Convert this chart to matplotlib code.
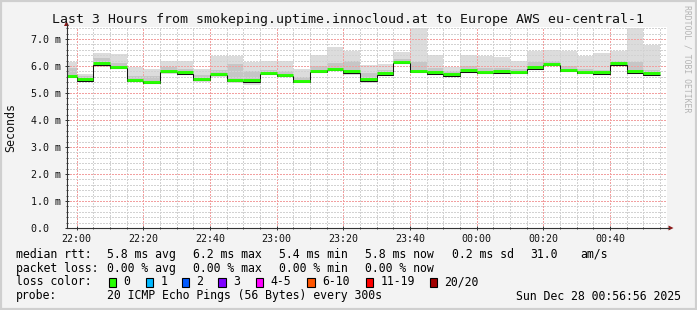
import matplotlib
matplotlib.use("Agg")
import matplotlib.pyplot as plt
import numpy as np
from matplotlib.patches import Polygon, Rectangle
from matplotlib.lines import Line2D
import matplotlib.transforms as mtransforms

# ---------------- data ----------------
slot_times = ["21:55", "22:00", "22:05", "22:10", "22:15", "22:20", "22:25", "22:30",
              "22:35", "22:40", "22:45", "22:50", "22:55", "23:00", "23:05", "23:10",
              "23:15", "23:20", "23:25", "23:30", "23:35", "23:40", "23:45", "23:50",
              "23:55", "00:00", "00:05", "00:10", "00:15", "00:20", "00:25", "00:30",
              "00:35", "00:40", "00:45", "00:50"]
slot_minutes = 5

median_ms = [5.64, 5.52, 6.11, 5.97, 5.49, 5.42, 5.83, 5.76,
             5.53, 5.71, 5.49, 5.47, 5.75, 5.68, 5.46, 5.83,
             5.90, 5.80, 5.50, 5.74, 6.16, 5.82, 5.77, 5.69,
             5.84, 5.79, 5.81, 5.79, 5.95, 6.09, 5.87, 5.79,
             5.76, 6.10, 5.81, 5.74]
smoke_max = [6.16, 5.69, 6.48, 6.43, 5.98, 5.89, 6.19, 6.19,
             5.89, 6.38, 6.38, 6.13, 6.19, 6.19, 5.89, 6.41,
             6.70, 6.55, 6.04, 6.06, 6.53, 7.42, 6.41, 5.98,
             6.41, 6.37, 6.35, 6.19, 6.56, 6.59, 6.56, 6.38,
             6.47, 6.56, 7.42, 6.78]
smoke_min = [5.54, 5.40, 5.98, 5.91, 5.40, 5.32, 5.69, 5.66,
             5.40, 5.61, 5.36, 5.30, 5.66, 5.61, 5.40, 5.79,
             5.85, 5.65, 5.36, 5.69, 6.06, 5.77, 5.69, 5.61,
             5.73, 5.69, 5.77, 5.69, 5.89, 6.01, 5.79, 5.69,
             5.66, 6.01, 5.77, 5.66]
inner_hi = [5.92, 5.62, 6.28, 6.12, 5.62, 5.62, 5.95, 5.90,
            5.65, 5.85, 6.06, 5.80, 5.85, 5.80, 5.58, 6.00,
            6.10, 6.20, 5.75, 5.85, 6.25, 6.15, 5.92, 5.80,
            6.00, 5.92, 5.92, 5.90, 6.15, 6.20, 6.00, 5.90,
            5.85, 6.20, 6.15, 5.85]
inner_lo = [5.58, 5.45, 6.03, 5.93, 5.44, 5.37, 5.74, 5.71,
            5.45, 5.66, 5.42, 5.38, 5.70, 5.64, 5.42, 5.80,
            5.87, 5.74, 5.42, 5.70, 6.10, 5.79, 5.72, 5.64,
            5.78, 5.73, 5.78, 5.73, 5.91, 6.04, 5.81, 5.71,
            5.68, 6.04, 5.79, 5.69]

view_start = "21:56:56"
view_end = "00:56:56"
x_tick_labels = ["22:00", "22:20", "22:40", "23:00", "23:20", "23:40", "00:00", "00:20", "00:40"]
y_major = [0, 1, 2, 3, 4, 5, 6, 7]
y_labels = ["0.0  ", "1.0 m", "2.0 m", "3.0 m", "4.0 m", "5.0 m", "6.0 m", "7.0 m"]
y_top = 7.45

title = "Last 3 Hours from smokeping.uptime.innocloud.at to Europe AWS eu-central-1"
y_axis_label = "Seconds"

loss_labels = ["0", "1", "2", "3", "4-5", "6-10", "11-19", "20/20"]
loss_colors = ["#26ff00", "#00b8ff", "#0059ff", "#7e00ff", "#ff00ff", "#ff5500", "#ff0000", "#a10000"]

rtt_stats = ["5.8 ms avg", "6.2 ms max", "5.4 ms min", "5.8 ms now", "0.2 ms sd", "31.0", "am/s"]
loss_stats = ["0.00 % avg", "0.00 % max", "0.00 % min", "0.00 % now"]
probe_text = "20 ICMP Echo Pings (56 Bytes) every 300s"
stamp_text = "Sun Dec 28 00:56:56 2025"


def to_min(t):
    parts = [int(p) for p in t.split(":")]
    h, m = parts[0], parts[1]
    s = parts[2] if len(parts) > 2 else 0
    v = h * 60 + m + s / 60.0 - 22 * 60
    if v < -120:
        v += 24 * 60
    return v


# ---------------- layout ----------------
W, H = 697, 310
DPI = 100
MONO = "DejaVu Sans Mono"
plt.rcParams["font.family"] = [MONO, "DejaVu Sans"]


def fx(x):
    return x / W


def fy(y):
    return 1 - y / H


fig = plt.figure(figsize=(W / DPI, H / DPI), dpi=DPI, facecolor="#f3f3f3")

# outer frame
for (x0, y0, x1, y1) in [(1, 1, 696, 1), (1, 1, 1, 309), (696, 1, 696, 309), (1, 309, 696, 309)]:
    fig.add_artist(Line2D([fx(x0), fx(x1)], [fy(y0), fy(y1)], color="#cfcfcf", lw=1.6,
                          transform=fig.transFigure))

ax_left, ax_right = 66.5, 666.5
ax_bottom, ax_top = 228.0, 228.0 - y_top * 27.0
ax = fig.add_axes([fx(ax_left), fy(ax_bottom), (ax_right - ax_left) / W, (ax_bottom - ax_top) / H])
ax.set_facecolor("white")

starts = np.array([to_min(t) for t in slot_times])
edges = np.append(starts, starts[-1] + slot_minutes)
med = np.array(median_ms)

# smoke
ax.bar(starts, np.array(smoke_max) - np.array(smoke_min), bottom=smoke_min, width=slot_minutes,
       align="edge", color="#dcdcdc", linewidth=0, zorder=1)
ax.bar(starts, np.array(inner_hi) - np.array(inner_lo), bottom=inner_lo, width=slot_minutes,
       align="edge", color="#c6c6c6", linewidth=0, zorder=1.05)

# median: black stairs slightly below the green loss bar
down = mtransforms.offset_copy(ax.transData, fig=fig, x=0, y=-1.6, units="dots")
ax.stairs(med, edges, baseline=None, color="#111111", lw=0.75, zorder=3, transform=down)
ax.hlines(med, starts, starts + slot_minutes, colors=loss_colors[0], lw=2.1, zorder=4)

# axes limits / ticks
ax.set_xlim(to_min(view_start), to_min(view_end))
ax.set_ylim(0, y_top)
ax.set_xticks([to_min(t) for t in x_tick_labels], x_tick_labels)
ax.set_xticks(np.arange(0, to_min(view_end), 5), minor=True)
ax.set_yticks(y_major, y_labels)
ax.set_yticks(np.arange(0, y_top, 0.2), minor=True)

dot = (0, (1.4, 1.4))
ax.set_axisbelow("line")
ax.grid(True, which="minor", color="#d2d2d2", linestyle=dot, lw=0.72, antialiased=False)
ax.grid(True, which="major", color="#f2a0a0", linestyle=dot, lw=0.72, antialiased=False)

for s in ["top", "right"]:
    ax.spines[s].set_visible(False)
for s in ["left", "bottom"]:
    ax.spines[s].set_color("#333333")
    ax.spines[s].set_linewidth(0.8)
    ax.spines[s].set_zorder(5)

ax.tick_params(which="major", direction="inout", length=3, width=0.7, color="#333333",
               labelsize=7.2, labelcolor="#111111")
ax.tick_params(which="minor", direction="inout", length=1.5, width=0.6, color="#333333")
ax.tick_params(axis="x", which="major", pad=2.5)
ax.tick_params(axis="y", which="major", pad=2.5)
for lab in ax.get_xticklabels() + ax.get_yticklabels():
    lab.set_family(MONO)

# axis extensions and arrows
fig.add_artist(Line2D([fx(ax_right), fx(669)], [fy(228), fy(228)], color="#333333", lw=0.8,
                      transform=fig.transFigure))
fig.add_artist(Line2D([fx(ax_left), fx(ax_left)], [fy(ax_top), fy(24)], color="#333333", lw=0.8,
                      transform=fig.transFigure))
arrow_col = "#8b1a1a"
fig.add_artist(Polygon([[fx(668.5), fy(225.5)], [fx(673.5), fy(228)], [fx(668.5), fy(230.5)]],
                       closed=True, color=arrow_col, transform=fig.transFigure, lw=0))
fig.add_artist(Polygon([[fx(64.0), fy(26.0)], [fx(66.5), fy(21.0)], [fx(69.0), fy(26.0)]],
                       closed=True, color=arrow_col, transform=fig.transFigure, lw=0))

# title and labels
fig.text(fx(348), fy(19), title, ha="center", va="center", fontsize=9.5, family=MONO, color="#111111")
fig.text(fx(11), fy(127), y_axis_label, ha="center", va="center", rotation=90, fontsize=8.4,
         family=MONO, color="#111111")
fig.text(fx(687), fy(5), "RRDTOOL / TOBI OETIKER", ha="center", va="top", rotation=270,
         fontsize=5.9, family=MONO, color="#b4b4b4")

# legend
LS = 8.3
row_y = [254.3, 268.3, 281.7, 296.0]
fig.text(fx(16), fy(row_y[0]), "median rtt:", ha="left", va="center", fontsize=LS, family=MONO)
for xp, s in zip([107.3, 193.3, 279.3, 365.0, 451.7, 529.8, 580.0], rtt_stats):
    fig.text(fx(xp), fy(row_y[0]), s, ha="left", va="center", fontsize=LS, family=MONO)

fig.text(fx(16), fy(row_y[1]), "packet loss:", ha="left", va="center", fontsize=LS, family=MONO)
for xp, s in zip([107.3, 193.3, 279.3, 365.0], loss_stats):
    fig.text(fx(xp), fy(row_y[1]), s, ha="left", va="center", fontsize=LS, family=MONO)

fig.text(fx(16), fy(row_y[2]), "loss color:", ha="left", va="center", fontsize=LS, family=MONO)
box_x = [108.7, 145.7, 181.7, 218.3, 256.0, 307.3, 365.7, 430.0]
for bx, lab, col in zip(box_x, loss_labels, loss_colors):
    fig.add_artist(Rectangle((fx(bx), fy(286.5)), 7.2 / W, 9.0 / H, facecolor=col, edgecolor="black",
                             lw=0.8, transform=fig.transFigure))
    fig.text(fx(bx + 14.5), fy(row_y[2]), lab, ha="left", va="center", fontsize=LS, family=MONO)

fig.text(fx(16), fy(row_y[3]), "probe:", ha="left", va="center", fontsize=LS, family=MONO)
fig.text(fx(107.3), fy(row_y[3]), probe_text, ha="left", va="center", fontsize=LS, family=MONO)
fig.text(fx(680.5), fy(row_y[3]), stamp_text, ha="right", va="center", fontsize=LS, family=MONO)

fig.savefig("out.png", dpi=DPI, facecolor=fig.get_facecolor())
